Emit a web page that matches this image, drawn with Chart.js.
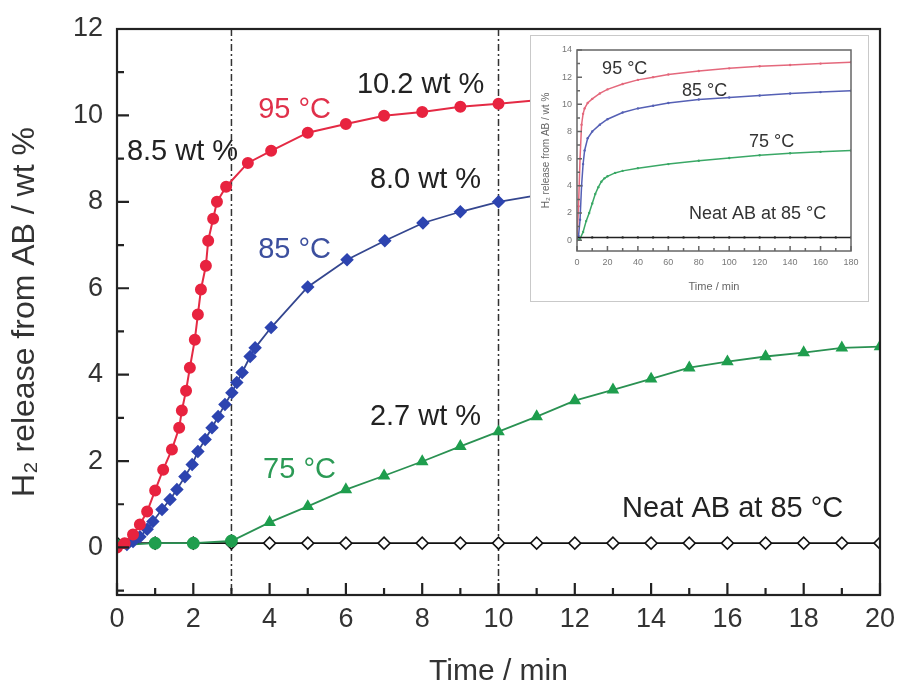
<!DOCTYPE html>
<html lang="en">
<head>
<meta charset="UTF-8">
<title>H2 release from AB</title>
<script src="https://cdn.jsdelivr.net/npm/chart.js"></script>
<style>
  html, body { margin: 0; padding: 0; background: #fff; }
  #wrap { position: relative; width: 899px; height: 687px; }
  #mainChart { position: absolute; left: 0; top: 0; }
  #insetBox { position: absolute; left: 530px; top: 35px; width: 337px; height: 265px;
              background: #fff; border: 1.5px solid #c9c9c9; }
</style>
</head>
<body>
<div id="wrap">
  <canvas id="mainChart" width="899" height="687"></canvas>
  <div id="insetBox"><canvas id="insetChart" width="337" height="265"></canvas></div>
</div>

<script>
// ---- main plot data (time in min, H2 release in wt %) ----
const t95 = [0, 0.2, 0.42, 0.6, 0.79, 1.0, 1.21, 1.44, 1.63, 1.7, 1.81, 1.91, 2.04, 2.12, 2.2, 2.33, 2.39, 2.52, 2.62, 2.86, 3.43, 4.04, 5, 6, 7, 8, 9, 10, 11];
const v95 = [0, 0.1, 0.3, 0.53, 0.83, 1.32, 1.8, 2.27, 2.77, 3.17, 3.63, 4.16, 4.81, 5.39, 5.97, 6.52, 7.1, 7.61, 8.0, 8.35, 8.9, 9.18, 9.6, 9.8, 9.99, 10.08, 10.2, 10.27, 10.35];

const t85 = [0, 0.26, 0.42, 0.6, 0.79, 0.94, 1.18, 1.39, 1.57, 1.78, 1.97, 2.12, 2.31, 2.49, 2.65, 2.83, 3.01, 3.14, 3.28, 3.49, 3.62, 4.04, 5, 6.03, 7.02, 8.02, 9, 10, 11];
const v85 = [0, 0.07, 0.14, 0.25, 0.42, 0.6, 0.88, 1.11, 1.34, 1.64, 1.92, 2.22, 2.5, 2.77, 3.03, 3.31, 3.58, 3.82, 4.05, 4.42, 4.62, 5.09, 6.03, 6.66, 7.1, 7.51, 7.77, 8.0, 8.15];

const t75 = [0, 1, 2, 3, 4, 5, 6, 7, 8, 9, 10, 11, 12, 13, 14, 15, 16, 17, 18, 19, 20];
const v75 = [0.05, 0.1, 0.1, 0.15, 0.58, 0.95, 1.34, 1.66, 1.99, 2.34, 2.68, 3.03, 3.4, 3.65, 3.9, 4.16, 4.3, 4.42, 4.51, 4.62, 4.65];

const tNeat = [0, 1, 2, 3, 4, 5, 6, 7, 8, 9, 10, 11, 12, 13, 14, 15, 16, 17, 18, 19, 20];
const vNeat = [0.1, 0.1, 0.1, 0.1, 0.1, 0.1, 0.1, 0.1, 0.1, 0.1, 0.1, 0.1, 0.1, 0.1, 0.1, 0.1, 0.1, 0.1, 0.1, 0.1, 0.1];

const xTicks = [0, 2, 4, 6, 8, 10, 12, 14, 16, 18, 20];
const xMinor = [1, 3, 5, 7, 9, 11, 13, 15, 17, 19];
const yTicks = [0, 2, 4, 6, 8, 10, 12];
const yMinor = [-1, 1, 3, 5, 7, 9, 11];
const markerTimes = [3, 10];

// ---- inset data (0-180 min) ----
const insT95 = [0, 1, 2, 3, 4, 5, 7, 10, 15, 20, 30, 40, 50, 60, 80, 100, 120, 140, 160, 180];
const insV95 = [0, 2.5, 6, 8.5, 9.3, 9.7, 10.1, 10.4, 10.8, 11.1, 11.5, 11.8, 12.0, 12.2, 12.45, 12.65, 12.8, 12.9, 13.0, 13.1];
const insT85 = [0, 1, 2, 3, 4, 5, 7, 10, 15, 20, 30, 40, 50, 60, 80, 100, 120, 140, 160, 180];
const insV85 = [0, 0.3, 1.5, 4.0, 5.6, 6.6, 7.5, 8.0, 8.5, 8.9, 9.4, 9.7, 9.9, 10.1, 10.35, 10.5, 10.65, 10.8, 10.9, 11.0];
const insT75 = [0, 2, 4, 6, 8, 10, 12, 14, 16, 18, 20, 25, 30, 40, 60, 80, 100, 120, 140, 160, 180];
const insV75 = [0, 0.1, 0.6, 1.4, 2.0, 2.7, 3.4, 3.9, 4.3, 4.55, 4.7, 4.95, 5.1, 5.3, 5.6, 5.85, 6.05, 6.25, 6.4, 6.5, 6.6];
const insTNeat = [0, 10, 20, 30, 40, 50, 60, 70, 80, 90, 100, 110, 120, 130, 140, 150, 160, 170, 180];
const insVNeat = [0.2, 0.2, 0.2, 0.2, 0.2, 0.2, 0.2, 0.2, 0.2, 0.2, 0.2, 0.2, 0.2, 0.2, 0.2, 0.2, 0.2, 0.2, 0.2];

const insXTicks = [0, 20, 40, 60, 80, 100, 120, 140, 160, 180];
const insXMinor = [10, 30, 50, 70, 90, 110, 130, 150, 170];
const insYTicks = [0, 2, 4, 6, 8, 10, 12, 14];
const insYMinor = [1, 3, 5, 7, 9, 11, 13];

const FONT = "'Liberation Sans', Arial, Helvetica, sans-serif";

function pts(xs, ys) { return xs.map((x, i) => ({ x: x, y: ys[i] })); }

// frame + inward ticks
const frameTicks = {
  id: 'frameTicks',
  afterDatasetsDraw(chart, args, o) {
    const { ctx, chartArea: a, scales: { x, y } } = chart;
    ctx.save();
    ctx.strokeStyle = o.color;
    ctx.lineWidth = o.width;
    ctx.strokeRect(a.left, a.top, a.right - a.left, a.bottom - a.top);
    ctx.beginPath();
    o.xMajor.forEach(v => { const p = x.getPixelForValue(v); ctx.moveTo(p, a.bottom); ctx.lineTo(p, a.bottom - o.major); });
    o.xMinor.forEach(v => { const p = x.getPixelForValue(v); ctx.moveTo(p, a.bottom); ctx.lineTo(p, a.bottom - o.minor); });
    o.yMajor.forEach(v => { const p = y.getPixelForValue(v); ctx.moveTo(a.left, p); ctx.lineTo(a.left + o.major, p); });
    o.yMinor.forEach(v => { const p = y.getPixelForValue(v); ctx.moveTo(a.left, p); ctx.lineTo(a.left + o.minor, p); });
    ctx.stroke();
    ctx.restore();
  }
};

// dash-dot guide lines
const guides = {
  id: 'guides',
  beforeDatasetsDraw(chart, args, o) {
    if (!o.times) return;
    const { ctx, chartArea: a, scales: { x } } = chart;
    ctx.save();
    ctx.strokeStyle = '#333';
    ctx.lineWidth = 1.5;
    ctx.setLineDash([7, 3, 2, 3]);
    o.times.forEach(t => {
      const p = x.getPixelForValue(t);
      ctx.beginPath(); ctx.moveTo(p, a.top); ctx.lineTo(p, a.bottom); ctx.stroke();
    });
    ctx.restore();
  }
};

// text labels placed in data units
const notes = {
  id: 'notes',
  afterDatasetsDraw(chart, args, o) {
    const { ctx, scales: { x, y } } = chart;
    ctx.save();
    ctx.textAlign = 'left';
    ctx.textBaseline = 'middle';
    o.items.forEach(n => {
      ctx.fillStyle = n.color;
      ctx.font = o.size + 'px ' + FONT;
      ctx.fillText(n.text, x.getPixelForValue(n.x), y.getPixelForValue(n.y));
    });
    ctx.restore();
  }
};

// keep tick labels from pushing the plot area around
function noPad(s) { s.paddingLeft = 0; s.paddingRight = 0; s.paddingTop = 0; s.paddingBottom = 0; }

new Chart(document.getElementById('mainChart'), {
  type: 'line',
  data: {
    datasets: [
      {
        label: 'Neat AB at 85 °C', data: pts(tNeat, vNeat), order: 4,
        borderColor: '#111', borderWidth: 1.8, pointStyle: 'rectRot', pointRadius: 6,
        pointBackgroundColor: '#fff', pointBorderColor: '#111', pointBorderWidth: 1.5
      },
      {
        label: '75 °C', data: pts(t75, v75), order: 3,
        borderColor: '#2a9152', borderWidth: 1.8,
        pointStyle: c => (t75[c.dataIndex] <= 3 ? 'circle' : 'triangle'),
        pointRadius: 5.5, pointBackgroundColor: '#1f9e4e', pointBorderColor: '#1f9e4e'
      },
      {
        label: '85 °C', data: pts(t85, v85), order: 2,
        borderColor: '#34468f', borderWidth: 1.8, pointStyle: 'rectRot', pointRadius: 5.5,
        pointBackgroundColor: '#2d44b0', pointBorderColor: '#2d44b0'
      },
      {
        label: '95 °C', data: pts(t95, v95), order: 1,
        borderColor: '#e42a44', borderWidth: 2, pointStyle: 'circle', pointRadius: 5,
        pointBackgroundColor: '#e8233f', pointBorderColor: '#e8233f'
      }
    ]
  },
  options: {
    responsive: false,
    animation: false,
    layout: { padding: { top: 29, right: 19, left: 0, bottom: 0 } },
    plugins: {
      legend: { display: false },
      tooltip: { enabled: false },
      guides: { times: markerTimes },
      frameTicks: { color: '#222', width: 2.2, major: 12, minor: 7,
                    xMajor: xTicks, xMinor: xMinor, yMajor: yTicks, yMinor: yMinor },
      notes: {
        size: 29,
        items: [
          { text: '95 °C', x: 3.70, y: 10.13, color: '#e0304a' },
          { text: '10.2 wt %', x: 6.29, y: 10.71, color: '#222' },
          { text: '8.5 wt %', x: 0.26, y: 9.16, color: '#222' },
          { text: '8.0 wt %', x: 6.63, y: 8.51, color: '#222' },
          { text: '85 °C', x: 3.70, y: 6.89, color: '#3c4f9e' },
          { text: '2.7 wt %', x: 6.63, y: 3.03, color: '#222' },
          { text: '75 °C', x: 3.83, y: 1.80, color: '#2b9a55' },
          { text: 'Neat AB at 85 °C', x: 13.24, y: 0.90, color: '#222' }
        ]
      }
    },
    scales: {
      x: {
        type: 'linear', min: 0, max: 20,
        grid: { display: false, drawTicks: false }, border: { display: false },
        afterBuildTicks: s => { s.ticks = xTicks.map(v => ({ value: v })); },
        afterFit: s => { s.height = 92; noPad(s); },
        ticks: { padding: 8, color: '#333', maxRotation: 0, autoSkip: false, font: { size: 27, family: FONT } },
        title: { display: true, text: 'Time / min', color: '#333',
                 font: { size: 30, family: FONT, lineHeight: 1 }, padding: { top: 0, bottom: 0 } }
      },
      y: {
        type: 'linear', min: -1.1, max: 12,
        grid: { display: false, drawTicks: false }, border: { display: false },
        afterBuildTicks: s => { s.ticks = yTicks.map(v => ({ value: v })); },
        afterFit: s => { s.width = 117; noPad(s); },
        ticks: { padding: 14, color: '#333', font: { size: 27, family: FONT } },
        title: { display: true, text: 'H₂ release from AB / wt %', color: '#333',
                 font: { size: 32, family: FONT, lineHeight: 1.2 }, padding: { top: 6, bottom: 0 } }
      }
    }
  },
  plugins: [guides, frameTicks, notes]
});

new Chart(document.getElementById('insetChart'), {
  type: 'line',
  data: {
    datasets: [
      { data: pts(insTNeat, insVNeat), borderColor: '#222', borderWidth: 1.5, pointRadius: 1.2,
        pointBackgroundColor: '#222', pointBorderWidth: 0 },
      { data: pts(insT75, insV75), borderColor: '#3aa866', borderWidth: 1.5, pointRadius: 1.2,
        pointBackgroundColor: '#3aa866', pointBorderWidth: 0 },
      { data: pts(insT85, insV85), borderColor: '#5560b5', borderWidth: 1.5, pointRadius: 1.2,
        pointBackgroundColor: '#5560b5', pointBorderWidth: 0 },
      { data: pts(insT95, insV95), borderColor: '#e4687c', borderWidth: 1.5, pointRadius: 1.2,
        pointBackgroundColor: '#e4687c', pointBorderWidth: 0 }
    ]
  },
  options: {
    responsive: false,
    animation: false,
    layout: { padding: { top: 14, right: 17, left: 0, bottom: 0 } },
    plugins: {
      legend: { display: false },
      tooltip: { enabled: false },
      frameTicks: { color: '#666', width: 1.5, major: 5, minor: 3,
                    xMajor: insXTicks, xMinor: insXMinor, yMajor: insYTicks, yMinor: insYMinor },
      notes: {
        size: 18,
        items: [
          { text: '95 °C', x: 16.5, y: 12.6, color: '#333' },
          { text: '85 °C', x: 69, y: 10.96, color: '#333' },
          { text: '75 °C', x: 113, y: 7.2, color: '#333' },
          { text: 'Neat AB at 85 °C', x: 73.6, y: 1.9, color: '#333' }
        ]
      }
    },
    scales: {
      x: {
        type: 'linear', min: 0, max: 180,
        grid: { display: false, drawTicks: false }, border: { display: false },
        afterBuildTicks: s => { s.ticks = insXTicks.map(v => ({ value: v })); },
        afterFit: s => { s.height = 50; noPad(s); },
        ticks: { padding: 6, color: '#777', maxRotation: 0, autoSkip: false, font: { size: 9, family: FONT } },
        title: { display: true, text: 'Time / min', color: '#666',
                 font: { size: 11, family: FONT, lineHeight: 1 }, padding: { top: 0, bottom: 9 } }
      },
      y: {
        type: 'linear', min: -0.8, max: 14,
        grid: { display: false, drawTicks: false }, border: { display: false },
        afterBuildTicks: s => { s.ticks = insYTicks.map(v => ({ value: v })); },
        afterFit: s => { s.width = 46; noPad(s); },
        ticks: { padding: 5, color: '#777', font: { size: 9, family: FONT } },
        title: { display: true, text: 'H₂ release from AB / wt %', color: '#666',
                 font: { size: 10, family: FONT, lineHeight: 1.2 }, padding: { top: 9.5, bottom: 0 } }
      }
    }
  },
  plugins: [frameTicks, notes]
});
</script>
</body>
</html>
